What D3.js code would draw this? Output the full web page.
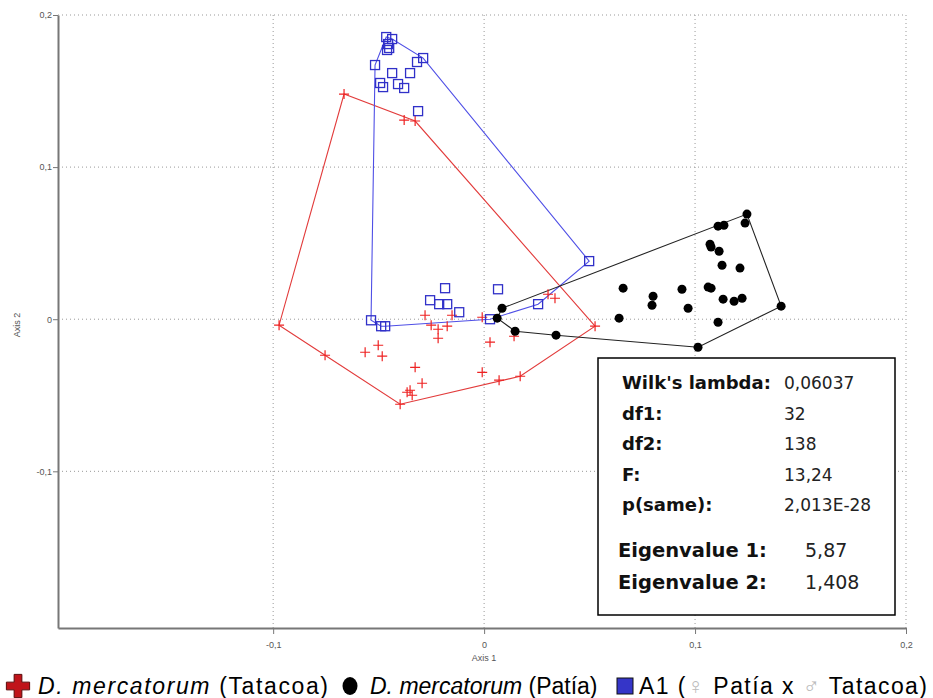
<!DOCTYPE html>
<html>
<head>
<meta charset="utf-8">
<script src="https://cdn.jsdelivr.net/npm/d3@7"></script>
<style>
	body {margin:0; background:#fff;}
	.tickLabel {font-family:'Liberation Sans',Arial,sans-serif; font-size:9px; fill:#555;}
	.statLabel {font-family:'DejaVu Sans',sans-serif; font-weight:bold; fill:#111;}
	.statValue {font-family:'DejaVu Sans',sans-serif; fill:#222;}
	.legendText {font-family:'Liberation Sans',Arial,sans-serif; font-size:23px; fill:#000;}
</style>
</head>
<body>
<script>
// CVA scores (Axis 1, Axis 2)
var tatacoa = [[-0.0664,0.1480],[-0.0379,0.1309],[-0.0327,0.1303],[-0.0972,-0.0039],[-0.0754,-0.0237],
	[-0.0564,-0.0217],[-0.0502,-0.0171],[-0.0483,-0.0243],[-0.0327,-0.0316],[-0.0294,-0.0421],
	[-0.0365,-0.0480],[-0.0341,-0.0500],[-0.0351,-0.0467],[-0.0398,-0.0559],[-0.0280,0.0026],
	[-0.0251,-0.0039],[-0.0218,-0.0066],[-0.0175,-0.0046],[-0.0152,0.0026],[-0.0218,-0.0125],
	[-0.0009,0.0013],[0.0028,-0.0151],[0.0142,-0.0112],[0.0303,0.0164],[0.0336,0.0138],
	[0.0526,-0.0046],[-0.0009,-0.0349],[0.0071,-0.0401],[0.0171,-0.0375]];
var patia = [[0.1246,0.0691],[0.1237,0.0632],[0.1109,0.0612],[0.1137,0.0618],[0.1071,0.0493],
	[0.1076,0.0474],[0.1114,0.0447],[0.1128,0.0355],[0.1213,0.0336],[0.0659,0.0204],
	[0.0801,0.0151],[0.0796,0.0092],[0.0938,0.0197],[0.0967,0.0072],[0.1062,0.0211],
	[0.1076,0.0204],[0.1133,0.0132],[0.1185,0.0118],[0.1223,0.0138],[0.1408,0.0086],
	[0.0640,0.0007],[0.1109,-0.0020],[0.1014,-0.0184],[0.0085,0.0072],[0.0062,0.0007],
	[0.0147,-0.0079],[0.0341,-0.0105]];
var hybrid = [[-0.0464,0.1855],[-0.0436,0.1842],[-0.0455,0.1809],[-0.0450,0.1783],[-0.0460,0.1770],
	[-0.0517,0.1671],[-0.0436,0.1618],[-0.0351,0.1618],[-0.0318,0.1691],[-0.0289,0.1717],
	[-0.0493,0.1553],[-0.0479,0.1526],[-0.0408,0.1546],[-0.0379,0.1520],[-0.0313,0.1368],
	[0.0498,0.0382],[0.0256,0.0099],[0.0066,0.0197],[-0.0185,0.0204],[-0.0256,0.0125],
	[-0.0213,0.0099],[-0.0175,0.0099],[-0.0118,0.0046],[0.0028,0.0],[-0.0536,-0.0007],
	[-0.0488,-0.0046],[-0.0469,-0.0046]];

var xTicks = [-0.1,0,0.1,0.2];
var yTicks = [-0.1,0,0.1,0.2];

var statLabels = ["Wilk's lambda:","df1:","df2:","F:","p(same):"];
var statValues = ["0,06037","32","138","13,24","2,013E-28"];
var eigenLabels = ["Eigenvalue 1:","Eigenvalue 2:"];
var eigenValues = ["5,87","1,408"];

var width = 933, height = 698;
var svg = d3.select('body').append('svg').attr('width',width).attr('height',height);

var xScale = d3.scaleLinear().domain([-0.202,0.2]).range([58,906]);
var yScale = d3.scaleLinear().domain([-0.203,0.2]).range([628,15]);
var fmt = function(d){return String(d).replace('.',',');};

//Grid
var gridG = svg.append('g').attr('id','grid');
gridG.selectAll('.vgrid').data(xTicks).enter().append('line')
	.attr('x1',function(d){return xScale(d);}).attr('x2',function(d){return xScale(d);})
	.attr('y1',15).attr('y2',628)
	.attr('stroke','#999').attr('stroke-dasharray','1,3');
gridG.selectAll('.hgrid').data(yTicks).enter().append('line')
	.attr('y1',function(d){return yScale(d);}).attr('y2',function(d){return yScale(d);})
	.attr('x1',58).attr('x2',906)
	.attr('stroke','#999').attr('stroke-dasharray','1,3');

//Axes
var xAxisG = svg.append('g').attr('transform','translate(0,628)')
	.call(d3.axisBottom(xScale).tickValues(xTicks).tickSize(6).tickSizeOuter(0).tickFormat(fmt));
var yAxisG = svg.append('g').attr('transform','translate(58,0)')
	.call(d3.axisLeft(yScale).tickValues(yTicks).tickSize(5).tickSizeOuter(0).tickFormat(fmt));
[xAxisG,yAxisG].forEach(function(g){
	g.select('.domain').attr('stroke','#777').attr('stroke-width',2);
	g.selectAll('.tick line').attr('stroke','#777');
	g.selectAll('.tick text').attr('class','tickLabel').attr('fill','#555');
});
xAxisG.selectAll('.tick text').attr('dy','1.2em');
yAxisG.selectAll('.tick text').attr('x',-6);

svg.append('text').attr('class','tickLabel').attr('font-size','8px')
	.attr('x',484).attr('y',661).attr('text-anchor','middle').text('Axis 1');
svg.append('text').attr('class','tickLabel').attr('font-size','8px')
	.attr('transform','translate(20,325) rotate(-90)').attr('text-anchor','middle').text('Axis 2');

//Convex hulls
var groups = [
	{pts:tatacoa, color:'#e23b3b'},
	{pts:hybrid, color:'#4f4fe6'},
	{pts:patia, color:'#222'}
];
var hullG = svg.append('g').attr('id','hulls');
groups.forEach(function(g){
	var hull = d3.polygonHull(g.pts.map(function(p){return [xScale(p[0]),yScale(p[1])];}));
	hullG.append('path')
		.attr('d','M'+hull.join('L')+'Z')
		.attr('fill','none')
		.attr('stroke',g.color)
		.attr('stroke-width',1.1);
});

//Points
var ptsG = svg.append('g').attr('id','points');
ptsG.selectAll('.tat').data(tatacoa).enter().append('path')
	.attr('transform',function(d){return 'translate('+xScale(d[0])+','+yScale(d[1])+')';})
	.attr('d','M-5,0H5M0,-5V5')
	.attr('stroke','#ee2222').attr('stroke-width',1.2).attr('fill','none');
ptsG.selectAll('.hyb').data(hybrid).enter().append('rect')
	.attr('x',function(d){return xScale(d[0])-4.5;})
	.attr('y',function(d){return yScale(d[1])-4.5;})
	.attr('width',9).attr('height',9)
	.attr('fill','none').attr('stroke','#3030c8').attr('stroke-width',1.3);
ptsG.selectAll('.pat').data(patia).enter().append('circle')
	.attr('cx',function(d){return xScale(d[0]);})
	.attr('cy',function(d){return yScale(d[1]);})
	.attr('r',4.5).attr('fill','#000');

//Statistics box
var boxG = svg.append('g').attr('id','stats');
boxG.append('rect').attr('x',598).attr('y',358).attr('width',297).attr('height',257)
	.attr('fill','#fff').attr('stroke','#000').attr('stroke-width',1.5);
boxG.selectAll('.sl').data(statLabels).enter().append('text')
	.attr('class','statLabel').attr('font-size','18px')
	.attr('x',622).attr('y',function(d,i){return 389+i*30.5;}).text(function(d){return d;});
boxG.selectAll('.sv').data(statValues).enter().append('text')
	.attr('class','statValue').attr('font-size','17px')
	.attr('x',784).attr('y',function(d,i){return 389+i*30.5;}).text(function(d){return d;});
boxG.selectAll('.el').data(eigenLabels).enter().append('text')
	.attr('class','statLabel').attr('font-size','19.5px')
	.attr('x',618).attr('y',function(d,i){return 557+i*32;}).text(function(d){return d;});
boxG.selectAll('.ev').data(eigenValues).enter().append('text')
	.attr('class','statValue').attr('font-size','19px')
	.attr('x',805).attr('y',function(d,i){return 557+i*32;}).text(function(d){return d;});

//Legend
var legendG = svg.append('g').attr('id','legend');
legendG.append('path').attr('d',d3.symbol().type(d3.symbolCross).size(300)())
	.attr('transform','translate(18,686)')
	.attr('fill','#c0141a').attr('stroke','#5a0a0a').attr('stroke-width',1);
var t1 = legendG.append('text').attr('class','legendText').attr('x',38).attr('y',694)
	.attr('textLength',290);
t1.append('tspan').attr('font-style','italic').text('D. mercatorum');
t1.append('tspan').text(' (Tatacoa)');

legendG.append('ellipse').attr('cx',350).attr('cy',686).attr('rx',7.5).attr('ry',9).attr('fill','#000');
var t2 = legendG.append('text').attr('class','legendText').attr('x',370).attr('y',694);
t2.append('tspan').attr('font-style','italic').text('D. mercatorum');
t2.append('tspan').text(' (Patía)');

legendG.append('rect').attr('x',617).attr('y',678).attr('width',16).attr('height',16)
	.attr('fill','#3535c8').attr('stroke','#111').attr('stroke-width',1);
var t3 = legendG.append('text').attr('class','legendText').attr('x',639).attr('y',694)
	.attr('textLength',288);
t3.append('tspan').text('A1 (');
t3.append('tspan').attr('fill','#bbb').text('♀');
t3.append('tspan').text(' Patía x ');
t3.append('tspan').attr('fill','#bbb').text('♂');
t3.append('tspan').text(' Tatacoa)');
</script>
</body>
</html>
